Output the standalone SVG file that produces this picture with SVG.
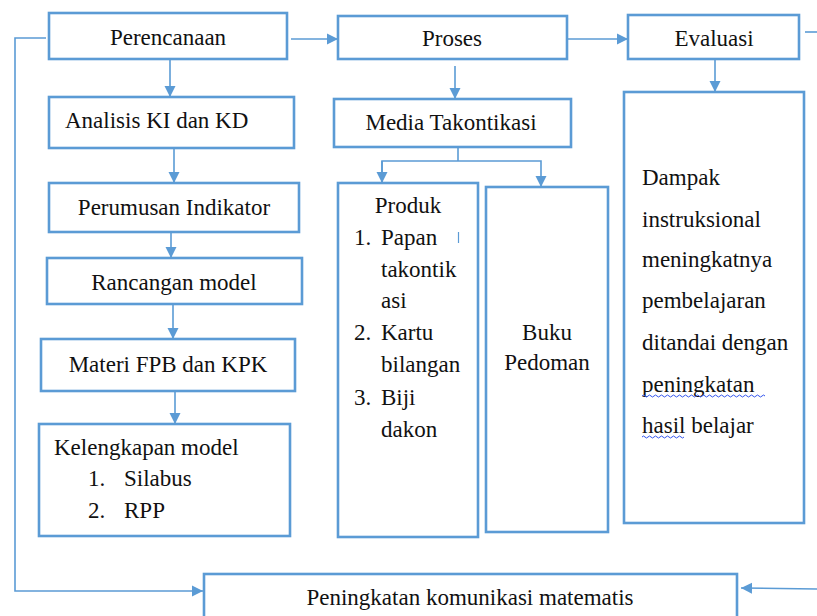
<svg xmlns="http://www.w3.org/2000/svg" width="817" height="616" viewBox="0 0 817 616" font-family="'Liberation Serif', 'DejaVu Serif', 'Times New Roman', serif">
<defs>
<marker id="ah" markerUnits="userSpaceOnUse" markerWidth="12" markerHeight="12" viewBox="0 0 12 12" refX="11" refY="6" orient="auto">
<path d="M0,0.5 L11,6 L0,11.5 Z" fill="#5B9BD5"/>
</marker>
<style>
.box{fill:#fff;stroke:#5B9BD5;stroke-width:2.6}
.ln{fill:none;stroke:#5B9BD5;stroke-width:1.6}
.t{font-family:'Liberation Serif','DejaVu Serif','Times New Roman',serif;font-size:23px;fill:#111}
.c{text-anchor:middle}
.wv{fill:none;stroke:#3355ee;stroke-width:1}
</style>
</defs>
<rect width="817" height="616" fill="#fff"/>
<g id="connectors">
<line class="ln" x1="291" y1="39" x2="338" y2="39" marker-end="url(#ah)"/>
<line class="ln" x1="567" y1="39" x2="628" y2="39" marker-end="url(#ah)"/>
<line class="ln" x1="805" y1="32" x2="817" y2="32"/>
<polyline class="ln" points="46,38 15,38 15,591 203,591" marker-end="url(#ah)"/>
<line class="ln" x1="817" y1="589" x2="741" y2="588" marker-end="url(#ah)"/>
<line class="ln" x1="170" y1="59" x2="170" y2="97" marker-end="url(#ah)"/>
<line class="ln" x1="174" y1="148" x2="174" y2="183" marker-end="url(#ah)"/>
<line class="ln" x1="171" y1="232" x2="171" y2="258" marker-end="url(#ah)"/>
<line class="ln" x1="173" y1="304" x2="173" y2="339" marker-end="url(#ah)"/>
<line class="ln" x1="175" y1="391" x2="175" y2="424" marker-end="url(#ah)"/>
<line class="ln" x1="455" y1="66" x2="455" y2="99" marker-end="url(#ah)"/>
<line class="ln" x1="715" y1="59" x2="715" y2="92" marker-end="url(#ah)"/>
<line class="ln" x1="458" y1="147" x2="458" y2="161"/>
<polyline class="ln" points="382,183 382,161 541,161 541,187" marker-end="url(#ah)"/>
<line class="ln" x1="382" y1="161" x2="382" y2="183" marker-end="url(#ah)"/>
</g>
<g id="perencanaan">
<rect class="box" x="49" y="13" width="238" height="46"/>
<text class="t c" x="168" y="45">Perencanaan</text>
</g>
<g id="proses">
<rect class="box" x="338" y="16" width="229" height="43"/>
<text class="t c" x="452" y="46">Proses</text>
</g>
<g id="evaluasi">
<rect class="box" x="628" y="15" width="171" height="44"/>
<text class="t c" x="714" y="46">Evaluasi</text>
</g>
<g id="analisis">
<rect class="box" x="49" y="97" width="245" height="51"/>
<text class="t" x="65" y="128">Analisis KI dan KD</text>
</g>
<g id="perumusan">
<rect class="box" x="49" y="183" width="250" height="49"/>
<text class="t c" x="174" y="215">Perumusan Indikator</text>
</g>
<g id="rancangan">
<rect class="box" x="47" y="258" width="255" height="46"/>
<text class="t c" x="174" y="290">Rancangan model</text>
</g>
<g id="materi">
<rect class="box" x="41" y="339" width="254" height="52"/>
<text class="t c" x="168" y="372">Materi FPB dan KPK</text>
</g>
<g id="kelengkapan">
<rect class="box" x="39" y="424" width="251" height="112"/>
<text class="t" x="54" y="455">Kelengkapan model</text>
<text class="t" x="88" y="486">1.</text>
<text class="t" x="124" y="486">Silabus</text>
<text class="t" x="88" y="518">2.</text>
<text class="t" x="124" y="518">RPP</text>
</g>
<g id="media">
<rect class="box" x="334" y="99" width="237" height="48"/>
<text class="t c" x="451" y="130">Media Takontikasi</text>
</g>
<g id="produk">
<rect class="box" x="338" y="183" width="140" height="354"/>
<text class="t c" x="408" y="213">Produk</text>
<text class="t" x="354" y="245">1.</text>
<text class="t" x="381" y="245">Papan</text>
<text class="t" x="381" y="277">takontik</text>
<text class="t" x="381" y="308">asi</text>
<text class="t" x="354" y="340">2.</text>
<text class="t" x="381" y="340">Kartu</text>
<text class="t" x="381" y="372">bilangan</text>
<text class="t" x="354" y="405">3.</text>
<text class="t" x="381" y="405">Biji</text>
<text class="t" x="381" y="437">dakon</text>
<line x1="458.5" y1="232" x2="458.5" y2="243" stroke="#5B9BD5" stroke-width="1.2"/>
</g>
<g id="buku">
<rect class="box" x="486" y="187" width="122" height="345"/>
<text class="t c" x="547" y="340">Buku</text>
<text class="t c" x="547" y="370">Pedoman</text>
</g>
<g id="dampak">
<rect class="box" x="624" y="92" width="180" height="431"/>
<text class="t" x="642" y="185">Dampak</text>
<text class="t" x="642" y="227">instruksional</text>
<text class="t" x="642" y="267">meningkatnya</text>
<text class="t" x="642" y="308">pembelajaran</text>
<text class="t" x="642" y="350">ditandai dengan</text>
<text class="t" x="642" y="392">peningkatan</text>
<text class="t" x="642" y="433">hasil belajar</text>
<path class="wv" d="M642,396 q1.5,-2 3,0 t3,0 t3,0 t3,0 t3,0 t3,0 t3,0 t3,0 t3,0 t3,0 t3,0 t3,0 t3,0 t3,0 t3,0 t3,0 t3,0 t3,0 t3,0 t3,0 t3,0 t3,0 t3,0 t3,0 t3,0 t3,0 t3,0 t3,0 t3,0 t3,0 t3,0 t3,0 t3,0 t3,0 t3,0 t3,0 t3,0 t3,0 t3,0 t3,0 t3,0"/>
<path class="wv" d="M642,437 q1.5,-2 3,0 t3,0 t3,0 t3,0 t3,0 t3,0 t3,0 t3,0 t3,0 t3,0 t3,0 t3,0 t3,0 t3,0"/>
</g>
<g id="peningkatan">
<rect class="box" x="204" y="574" width="533" height="50"/>
<text class="t c" x="470" y="605">Peningkatan komunikasi matematis</text>
</g>
</svg>
